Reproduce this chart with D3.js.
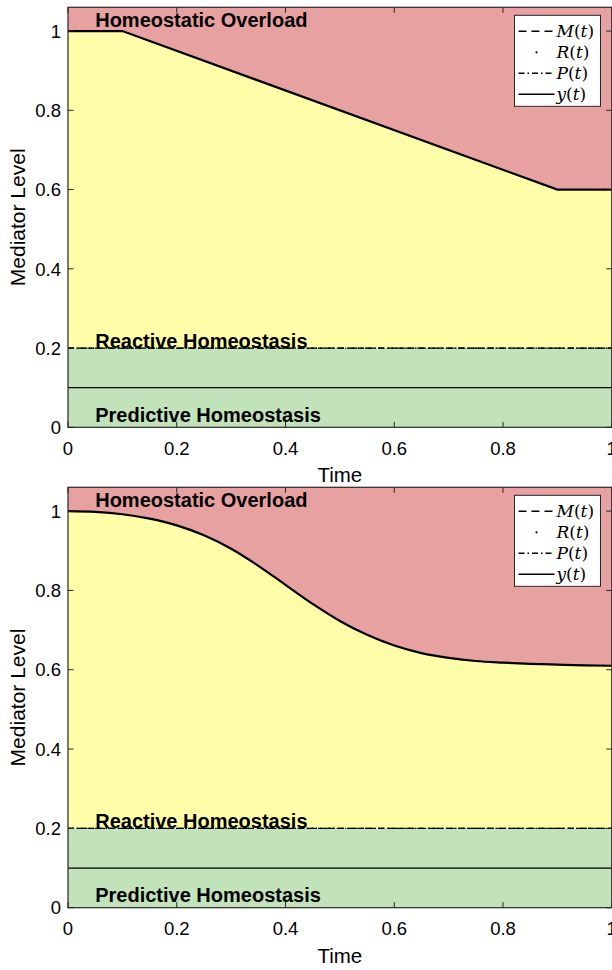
<!DOCTYPE html>
<html>
<head>
<meta charset="utf-8">
<script src="https://cdn.jsdelivr.net/npm/d3@7"></script>
<style>
  html, body { margin: 0; padding: 0; background: #fff; }
  svg { display: block; }
  text { font-family: "Liberation Sans", Arial, Helvetica, sans-serif; }
  text.math { font-family: "DejaVu Serif", "Liberation Serif", serif; }
</style>
</head>
<body>
<svg id="chart" width="612" height="970"></svg>
<script>
// ---- data -------------------------------------------------------------
// Panel 1: piecewise-linear mediator response y(t)
const timeTop = [0, 0.1, 0.9, 1];
const yTop = [1, 1, 0.6, 0.6];

// Panel 2: smooth mediator response y(t)
const timeBottom = [0, 0.05, 0.1, 0.15, 0.2, 0.25, 0.3, 0.35, 0.4, 0.45, 0.5,
                    0.55, 0.6, 0.65, 0.7, 0.75, 0.8, 0.85, 0.9, 0.95, 1];
const yBottom = [1.0, 0.998, 0.992, 0.981, 0.964, 0.939, 0.905, 0.862, 0.814, 0.766, 0.723,
                 0.688, 0.661, 0.642, 0.630, 0.622, 0.618, 0.615, 0.613, 0.611, 0.61];

// Constant reference signals M(t), R(t), P(t) and the predictive threshold
const timeRef = [0, 1];
const mRef = [0.2, 0.2];
const rRef = [0.2, 0.2];
const pRef = [0.2, 0.2];
const predictiveLevel = [0.1, 0.1];

const xTicks = [0, 0.2, 0.4, 0.6, 0.8, 1];
const yTicks = [0, 0.2, 0.4, 0.6, 0.8, 1];
const xDomain = [0, 1];
const yDomain = [0, 1.06];

const zoneLabels = ["Homeostatic Overload", "Reactive Homeostasis", "Predictive Homeostasis"];
const legendNames = ["M", "R", "P", "y"];

// ---- drawing ----------------------------------------------------------
const svg = d3.select("#chart");
const colors = { overload: "#e8a1a1", reactive: "#ffffaa", predictive: "#c2e3b9", axis: "#262626" };

function fmt(v) { return v === 0 ? "0" : v === 1 ? "1" : String(v); }

function drawPanel(top, bottom, ts, ys, clipId) {
  const left = 68, right = 611.75;
  const x = d3.scaleLinear().domain(xDomain).range([left, right]);
  const y = d3.scaleLinear().domain(yDomain).range([bottom, top]);
  const g = svg.append("g");

  g.append("clipPath").attr("id", clipId)
    .append("rect").attr("x", left).attr("y", top).attr("width", right - left).attr("height", bottom - top);
  const plot = g.append("g").attr("clip-path", `url(#${clipId})`);

  const pts = ts.map((t, i) => ({ t, v: ys[i] }));
  const curve = ts.length > 4 ? d3.curveMonotoneX : d3.curveLinear;

  // overload zone: above the response
  plot.append("path")
    .attr("d", d3.area().x(d => x(d.t)).y0(y(yDomain[1])).y1(d => y(d.v)).curve(curve)(pts))
    .attr("fill", colors.overload);
  // reactive zone: between 0.2 and the response
  plot.append("path")
    .attr("d", d3.area().x(d => x(d.t)).y0(y(mRef[0])).y1(d => y(d.v)).curve(curve)(pts))
    .attr("fill", colors.reactive);
  // predictive zone: below 0.2
  plot.append("path")
    .attr("d", d3.area().x(d => x(d.t)).y0(y(0)).y1(y(mRef[0]))(timeRef.map(t => ({ t }))))
    .attr("fill", colors.predictive);

  const refLine = d3.line().x(d => x(d.t)).y(d => y(d.v));
  const refPts = arr => timeRef.map((t, i) => ({ t, v: arr[i] }));

  plot.append("path").attr("d", refLine(refPts(predictiveLevel)))
    .attr("fill", "none").attr("stroke", "#000").attr("stroke-width", 1.3);
  plot.append("path").attr("d", refLine(refPts(mRef)))
    .attr("fill", "none").attr("stroke", "#000").attr("stroke-width", 1.2).attr("stroke-dasharray", "6,4");
  plot.append("path").attr("d", refLine(refPts(pRef)))
    .attr("fill", "none").attr("stroke", "#000").attr("stroke-width", 1.2).attr("stroke-dasharray", "6,3,1.5,3");
  plot.append("path").attr("d", refLine(refPts(rRef)))
    .attr("fill", "none").attr("stroke", "#000").attr("stroke-width", 1.2).attr("stroke-dasharray", "1.2,3");

  // response y(t)
  plot.append("path")
    .attr("d", d3.line().x(d => x(d.t)).y(d => y(d.v)).curve(curve)(pts))
    .attr("fill", "none").attr("stroke", "#000").attr("stroke-width", 2.2);

  // zone labels
  const lab = g.append("g").attr("font-weight", "bold").attr("font-size", 20).attr("fill", "#000");
  lab.append("text").attr("x", x(0.05)).attr("y", y(1.01)).text(zoneLabels[0]);
  lab.append("text").attr("x", x(0.05)).attr("y", y(0.2) - 0.5).text(zoneLabels[1]);
  lab.append("text").attr("x", x(0.05)).attr("y", y(0.014)).text(zoneLabels[2]);

  // axes: ticks pointing inward on all four sides
  const tl = 5.5;
  const ax = g.append("g").attr("stroke", colors.axis).attr("stroke-width", 1);
  xTicks.forEach(t => {
    ax.append("line").attr("x1", x(t)).attr("x2", x(t)).attr("y1", bottom).attr("y2", bottom - tl);
    ax.append("line").attr("x1", x(t)).attr("x2", x(t)).attr("y1", top).attr("y2", top + tl);
  });
  yTicks.forEach(v => {
    ax.append("line").attr("x1", left).attr("x2", left + tl).attr("y1", y(v)).attr("y2", y(v));
    ax.append("line").attr("x1", right).attr("x2", right - tl).attr("y1", y(v)).attr("y2", y(v));
  });
  ax.append("rect").attr("x", left).attr("y", top).attr("width", right - left).attr("height", bottom - top)
    .attr("fill", "none").attr("stroke-width", 1.2);

  const tk = g.append("g").attr("font-size", 18.5).attr("fill", "#000");
  xTicks.forEach(t => {
    tk.append("text").attr("x", x(t)).attr("y", bottom + 27.5).attr("text-anchor", "middle").text(fmt(t));
  });
  yTicks.forEach(v => {
    tk.append("text").attr("x", left - 7).attr("y", y(v) + 6.7).attr("text-anchor", "end").text(fmt(v));
  });

  g.append("text").attr("x", (left + right) / 2).attr("y", bottom + 55).attr("text-anchor", "middle")
    .attr("font-size", 20.5).text("Time");
  g.append("text").attr("transform", `translate(25,${(top + bottom) / 2}) rotate(-90)`)
    .attr("text-anchor", "middle").attr("font-size", 21).text("Mediator Level");

  // legend
  const lg = g.append("g").attr("transform", `translate(514.5,${top + 8})`);
  lg.append("rect").attr("width", 86).attr("height", 91).attr("fill", "#fff")
    .attr("stroke", colors.axis).attr("stroke-width", 1);
  const styles = [
    { dash: "8,5" }, { dot: true }, { dash: "6,3,1.5,3" }, { dash: null }
  ];
  legendNames.forEach((nm, i) => {
    const ly = 16 + i * 21;
    const s = styles[i];
    if (s.dot) {
      lg.append("circle").attr("cx", 22).attr("cy", ly).attr("r", 1.1).attr("fill", "#000");
    } else {
      lg.append("line").attr("x1", 4).attr("x2", 40).attr("y1", ly).attr("y2", ly)
        .attr("stroke", "#000").attr("stroke-width", 1.4)
        .attr("stroke-dasharray", s.dash);
    }
    const t = lg.append("text").attr("class", "math").attr("x", 42).attr("y", ly + 5.5)
      .attr("font-size", 17);
    t.append("tspan").attr("font-style", "italic").text(nm);
    t.append("tspan").text("(");
    t.append("tspan").attr("font-style", "italic").text("t");
    t.append("tspan").text(")");
  });
}

drawPanel(7.3, 427.3, timeTop, yTop, "clipTop");
drawPanel(487.3, 907.7, timeBottom, yBottom, "clipBottom");
</script>
</body>
</html>
